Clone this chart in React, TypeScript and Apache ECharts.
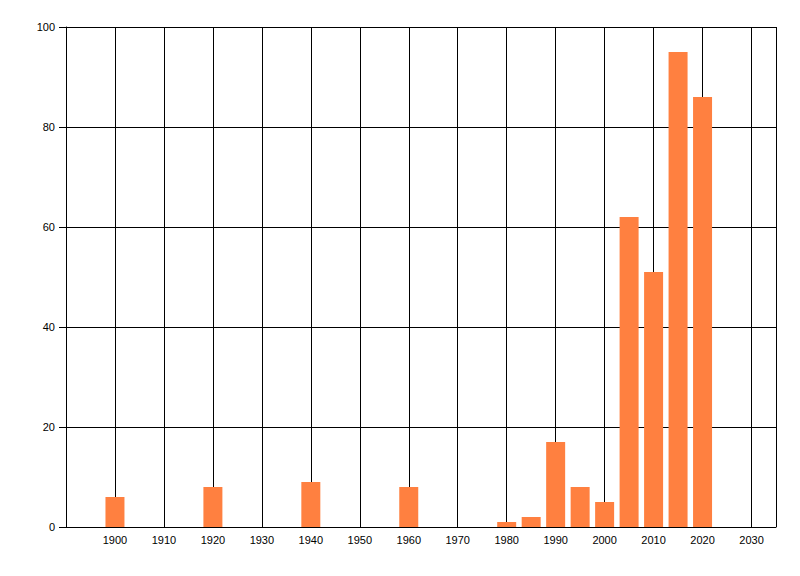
import React, { useEffect, useRef } from 'react';
import * as echarts from 'echarts';

const years = [1900, 1920, 1940, 1960, 1980, 1985, 1990, 1995, 2000, 2005, 2010, 2015, 2020];
const counts = [6, 8, 9, 8, 1, 2, 17, 8, 5, 62, 51, 95, 86];

const App = () => {
  const chartRef = useRef<HTMLDivElement>(null);

  useEffect(() => {
    if (!chartRef.current) return;
    const chart = echarts.init(chartRef.current, undefined, { renderer: 'svg' });
    const font = { fontFamily: 'Liberation Sans', fontSize: 11, color: '#000' };
    chart.setOption({
      animation: false,
      backgroundColor: '#fff',
      grid: { left: 66, right: 24, top: 27, bottom: 49, containLabel: false },
      xAxis: {
        type: 'value',
        min: 1890,
        max: 2035,
        interval: 10,
        axisLine: { show: true, lineStyle: { color: '#000', width: 1 } },
        axisTick: { show: false },
        splitLine: { show: true, lineStyle: { color: '#000', width: 1 } },
        axisLabel: {
          ...font,
          margin: 7,
          showMinLabel: false,
          showMaxLabel: false,
          formatter: (v: number) => (v === 1890 || v === 2035 ? '' : String(v)),
        },
      },
      yAxis: {
        type: 'value',
        min: 0,
        max: 100,
        interval: 20,
        axisLine: { show: true, lineStyle: { color: '#000', width: 1 } },
        axisTick: { show: true, length: 7, lineStyle: { color: '#000' } },
        splitLine: { show: true, lineStyle: { color: '#000', width: 1 } },
        axisLabel: { ...font, margin: 11 },
      },
      series: [
        {
          type: 'bar',
          data: years.map((y, i) => [y, counts[i]]),
          barWidth: 19,
          itemStyle: { color: '#FF8040' },
        },
      ],
    });
    return () => {
      chart.dispose();
    };
  }, []);

  return (
    <div
      ref={chartRef}
      style={{ position: 'absolute', left: 0, top: 0, width: '800px', height: '576px' }}
    />
  );
};

export default App;
